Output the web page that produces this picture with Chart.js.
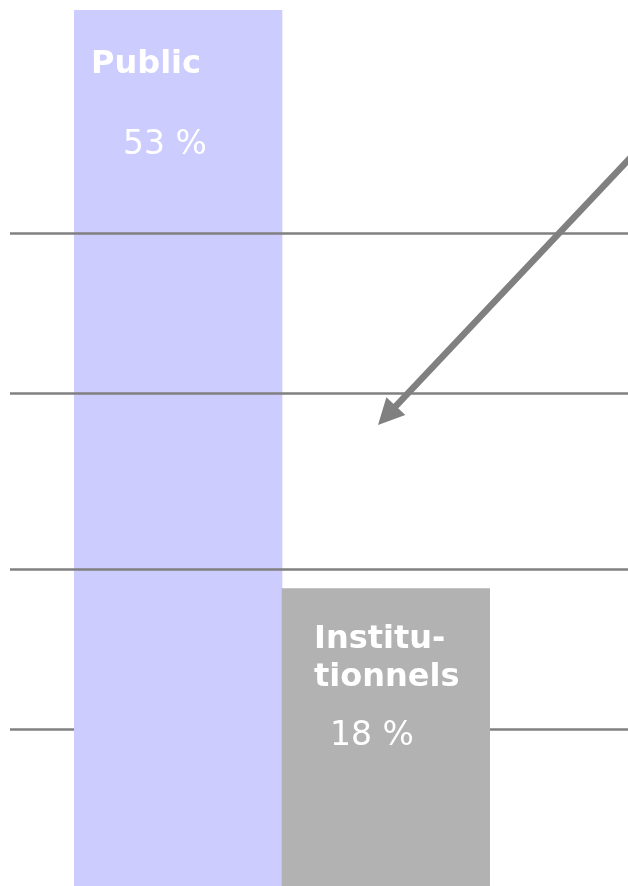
<!DOCTYPE html>
<html lang="fr">
<head>
<meta charset="UTF-8">
<title>Public / Institutionnels</title>
<style>
  body {
    margin: 0;
    background-color: #fff;
    overflow: hidden;
  }
  .chart-box {
    position: relative;
    width: 628px;
    height: 886px;
  }
</style>
<script src="https://cdn.jsdelivr.net/npm/chart.js"></script>
</head>
<body>

<div class="chart-box">
  <canvas id="shareChart"></canvas>
</div>

<script>
// data
var categories = ['Public', ['Institu-', 'tionnels']];
var shares = [53, 18];
// horizontal reference lines (in % units)
var gridValues = [9.5, 19.2, 29.8, 39.5];

var barColors = ['#ccccff', '#b2b2b2'];
var lineColor = '#808080';
var fontFamily = '"DejaVu Sans", Verdana, sans-serif';

// text placement inside each bar, relative to bar left / bar top
var labelPos = [
  { nameX: 17, nameY: 63, valueX: 49, valueY: 144 },
  { nameX: 32, nameY: 60, valueX: 48, valueY: 157 }
];

function drawGrid(chart, overBars) {
  var ctx = chart.ctx;
  var y = chart.scales.y;
  var minShare = Math.min.apply(null, shares);
  ctx.save();
  ctx.strokeStyle = lineColor;
  ctx.lineWidth = 2.5;
  gridValues.forEach(function (v) {
    if ((v >= minShare) !== overBars) return;
    var py = Math.round(y.getPixelForValue(v)) + 0.5;
    ctx.beginPath();
    ctx.moveTo(10, py);
    ctx.lineTo(chart.width, py);
    ctx.stroke();
  });
  ctx.restore();
}

var decorations = {
  id: 'decorations',
  beforeDatasetsDraw: function (chart) {
    drawGrid(chart, false);
  },
  afterDatasetsDraw: function (chart) {
    drawGrid(chart, true);
    var ctx = chart.ctx;
    var bars = chart.getDatasetMeta(0).data;

    // labels inside the bars
    ctx.save();
    ctx.fillStyle = '#fff';
    ctx.textAlign = 'left';
    ctx.textBaseline = 'alphabetic';
    bars.forEach(function (bar, i) {
      var left = bar.x - bar.width / 2;
      var top = bar.y;
      var p = labelPos[i];
      var lines = [].concat(categories[i]);
      ctx.font = 'bold 32px ' + fontFamily;
      lines.forEach(function (t, k) {
        ctx.fillText(t, left + p.nameX, top + p.nameY + k * 38);
      });
      ctx.font = '33px ' + fontFamily;
      ctx.fillText(shares[i] + ' %', left + p.valueX, top + p.valueY);
    });
    ctx.restore();

    // arrow
    var x0 = 632, y0 = 156, x1 = 378, y1 = 425;
    var dx = x1 - x0, dy = y1 - y0;
    var len = Math.sqrt(dx * dx + dy * dy);
    var ux = dx / len, uy = dy / len;
    var head = 26, half = 13;
    ctx.save();
    ctx.strokeStyle = lineColor;
    ctx.fillStyle = lineColor;
    ctx.lineWidth = 6.5;
    ctx.beginPath();
    ctx.moveTo(x0, y0);
    ctx.lineTo(x1 - ux * (head - 4), y1 - uy * (head - 4));
    ctx.stroke();
    var bx = x1 - ux * head, by = y1 - uy * head;
    ctx.beginPath();
    ctx.moveTo(x1, y1);
    ctx.lineTo(bx - uy * half, by + ux * half);
    ctx.lineTo(bx + uy * half, by - ux * half);
    ctx.closePath();
    ctx.fill();
    ctx.restore();
  }
};

var shareChart = new Chart(document.getElementById('shareChart'), {
  type: 'bar',
  data: {
    labels: categories,
    datasets: [{
      data: shares,
      backgroundColor: barColors,
      borderWidth: 0,
      barPercentage: 1,
      categoryPercentage: 1
    }]
  },
  options: {
    responsive: true,
    maintainAspectRatio: false,
    animation: false,
    layout: {
      padding: { left: 74, right: 138, top: 10, bottom: 0 }
    },
    plugins: {
      legend: { display: false },
      tooltip: { enabled: false }
    },
    scales: {
      x: { display: false },
      y: { display: false, min: 0, max: 53 }
    }
  },
  plugins: [decorations]
});
</script>

</body>
</html>
